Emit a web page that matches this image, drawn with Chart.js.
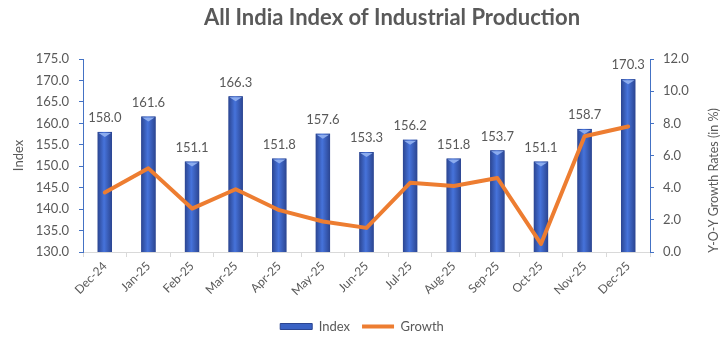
<!DOCTYPE html>
<html>
<head>
<meta charset="utf-8">
<script src="https://cdn.jsdelivr.net/npm/chart.js@4.4.1/dist/chart.umd.min.js"></script>
<style>
  body { margin: 0; background: #fff; }
  #wrap { width: 724px; height: 343px; }
</style>
</head>
<body>
<div id="wrap"><canvas id="iipChart" width="724" height="343"></canvas></div>
<script>
const months = ['Dec-24', 'Jan-25', 'Feb-25', 'Mar-25', 'Apr-25', 'May-25', 'Jun-25', 'Jul-25', 'Aug-25', 'Sep-25', 'Oct-25', 'Nov-25', 'Dec-25'];
const indexValues = [158.0, 161.6, 151.1, 166.3, 151.8, 157.6, 153.3, 156.2, 151.8, 153.7, 151.1, 158.7, 170.3];
const growthValues = [3.7, 5.2, 2.7, 3.9, 2.6, 1.9, 1.5, 4.3, 4.1, 4.6, 0.5, 7.2, 7.8];
const titleText = 'All India Index of Industrial Production';
const rightTitle = 'Y-O-Y Growth Rates (in %)';

const grey = '#595959';
const fontName = 'Lato';

// bars get a cylinder-ish look like the excel chart
const barLook = {
    id: 'barLook',
    afterDatasetDraw(chart, args) {
        if (args.meta.type !== 'bar') return;
        const ctx = chart.ctx;
        const area = chart.chartArea;
        ctx.save();
        ctx.beginPath();
        ctx.rect(area.left, area.top, area.right - area.left, area.bottom - area.top);
        ctx.clip();
        args.meta.data.forEach(bar => {
            const l = bar.x - bar.width / 2;
            const w = bar.width;
            const t = bar.y;
            const h = Math.min(bar.base, area.bottom) - bar.y;
            const g = ctx.createLinearGradient(l, 0, l + w, 0);
            g.addColorStop(0, '#2b4591');
            g.addColorStop(0.45, '#4673db');
            g.addColorStop(1, '#2b4591');
            ctx.fillStyle = g;
            ctx.fillRect(l, t, w, h);
            ctx.fillStyle = '#8cacee';
            ctx.beginPath();
            ctx.moveTo(l + 1, t + 1);
            ctx.lineTo(l + w - 1, t + 1);
            ctx.lineTo(l + w / 2, t + 5);
            ctx.closePath();
            ctx.fill();
        });
        ctx.restore();
    }
};

// value labels on top of bars, chart title, right axis title
const labelsAndTitle = {
    id: 'labelsAndTitle',
    afterDatasetsDraw(chart) {
        const ctx = chart.ctx;
        ctx.save();
        chart.data.datasets.forEach((ds, i) => {
            const meta = chart.getDatasetMeta(i);
            if (meta.type !== 'bar') return;
            ctx.font = '13px ' + fontName;
            ctx.fillStyle = grey;
            ctx.textAlign = 'center';
            ctx.textBaseline = 'middle';
            meta.data.forEach((bar, j) => {
                ctx.fillText(ds.data[j].toFixed(1), bar.x, bar.y - 14);
            });
        });
        ctx.font = 'bold 22px ' + fontName;
        ctx.fillStyle = grey;
        ctx.textAlign = 'center';
        ctx.textBaseline = 'middle';
        ctx.fillText(titleText, chart.width / 2 + 30, 18);

        const area = chart.chartArea;
        ctx.translate(chart.width - 10, (area.top + area.bottom) / 2 + 25);
        ctx.rotate(-Math.PI / 2);
        ctx.font = '12.5px ' + fontName;
        ctx.fillText(rightTitle, 0, 0);
        ctx.restore();
    }
};

new Chart(document.getElementById('iipChart'), {
    data: {
        labels: months,
        datasets: [{
            type: 'line',
            label: 'Growth',
            data: growthValues,
            yAxisID: 'y1',
            borderColor: '#ed7d31',
            backgroundColor: '#ed7d31',
            borderWidth: 4,
            borderCapStyle: 'round',
            borderJoinStyle: 'round',
            pointRadius: 0,
            pointStyle: 'line',
            tension: 0
        }, {
            type: 'bar',
            label: 'Index',
            data: indexValues,
            yAxisID: 'y',
            backgroundColor: '#3a62c4',
            borderColor: '#2b4591',
            borderWidth: 1,
            pointStyle: 'rect',
            barPercentage: 0.33,
            categoryPercentage: 1
        }]
    },
    options: {
        responsive: false,
        animation: false,
        layout: { padding: { top: 59, left: 0, right: 0, bottom: 0 } },
        plugins: {
            legend: {
                position: 'bottom',
                labels: {
                    usePointStyle: true,
                    pointStyleWidth: 32,
                    boxHeight: 6,
                    color: grey,
                    font: { family: fontName, size: 13 },
                    padding: 12,
                    sort: (a, b) => b.datasetIndex - a.datasetIndex
                }
            },
            tooltip: { enabled: false }
        },
        scales: {
            x: {
                grid: { offset: true, drawOnChartArea: false, tickLength: 5, color: '#d9d9d9' },
                border: { color: '#d9d9d9' },
                ticks: { color: grey, font: { family: fontName, size: 12 }, maxRotation: 45, minRotation: 45, padding: 2 },
                afterFit: (scale) => { scale.height = 56; }
            },
            y: {
                position: 'left',
                min: 130,
                max: 175,
                grid: { drawOnChartArea: false, tickLength: 4, color: '#4472c4' },
                border: { color: '#4472c4' },
                ticks: { stepSize: 5, color: grey, font: { family: fontName, size: 13 }, padding: 10,
                    callback: (v) => v.toFixed(1) },
                title: { display: true, text: 'Index', color: grey, font: { family: fontName, size: 13 }, padding: { top: 11, bottom: 0 } },
                afterFit: (scale) => { scale.width = 83; }
            },
            y1: {
                position: 'right',
                min: 0,
                max: 12,
                grid: { drawOnChartArea: false, tickLength: 4, color: '#4472c4' },
                border: { color: '#4472c4' },
                ticks: { stepSize: 2, color: grey, font: { family: fontName, size: 13 }, padding: 9,
                    callback: (v) => v.toFixed(1) },
                afterFit: (scale) => { scale.width = 74; }
            }
        }
    },
    plugins: [barLook, labelsAndTitle]
});
</script>
</body>
</html>
